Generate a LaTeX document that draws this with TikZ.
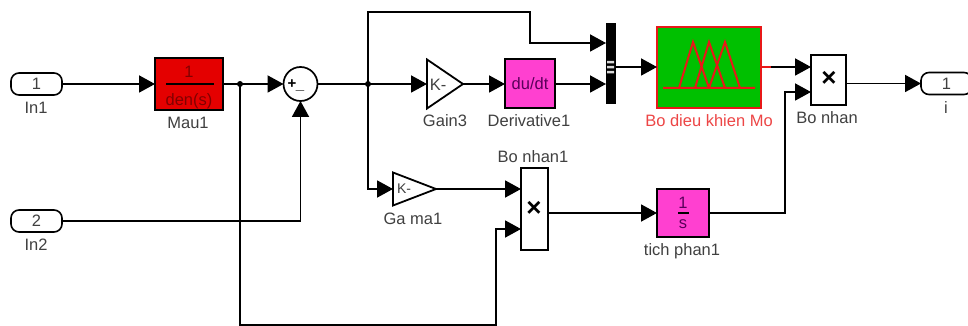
\documentclass[tikz,border=0pt]{standalone}
\usepackage{fontspec}
\setmainfont{Liberation Sans}
\usetikzlibrary{arrows.meta}
\definecolor{lbl}{HTML}{404040}
\definecolor{mag}{HTML}{FF40D0}
\definecolor{red1}{HTML}{E40000}
\definecolor{grn}{HTML}{00C000}
\definecolor{fz}{HTML}{E81818}
\tikzset{
  wire/.style={line width=1.9pt,black,line join=miter},
  arr/.style={wire,-{Triangle[length=16pt,width=17pt]}},
  lab/.style={text=lbl,font=\fontsize{16.5}{18}\selectfont,inner sep=0pt},
  blockbox/.style={draw=black,line width=2pt,inner sep=0pt,outer sep=0pt},
  port/.style={blockbox,line width=1.6pt,rounded corners=8pt,minimum width=51pt,minimum height=22pt,text=lbl,font=\fontsize{16.5}{18}\selectfont},
  hidden/.style={inner sep=0pt,outer sep=0pt},
  dot/.style={circle,fill=black,inner sep=0pt,minimum size=6pt},
}
\begin{document}
\begin{tikzpicture}[x=1pt,y=-1pt]
\clip (0,0) rectangle (968,326);
\fill[white] (0,0) rectangle (968,326);
% ports
\node[port] (in1) at (36.5,84) {1};
\node[lab] (in1l) at (36,108) {In1};
\node[port] (in2) at (36.5,221) {2};
\node[lab] (in2l) at (36,245) {In2};
\node[port] (out) at (946.5,83.5) {1};
\node[lab] (outl) at (946,108) {i};
% Mau1
\node[blockbox,fill=red1,minimum width=68pt,minimum height=52pt] (mau) at (189,84) {};
\node[hidden,font=\fontsize{16.5}{18}\selectfont,text={rgb,255:red,130;green,0;blue,0}] (maun) at (189,72) {1};
\node[hidden,font=\fontsize{16.5}{18}\selectfont,text={rgb,255:red,130;green,0;blue,0}] (maud) at (189,101) {den(s)};
\draw[line width=1.5pt] (166,84) -- (214,84);
\node[lab] (maul) at (188,123) {Mau1};
% sum
\node[blockbox,circle,fill=white,minimum size=34pt,line width=1.7pt] (sum) at (300.5,84) {};
\node[hidden,font=\fontsize{15}{15}\selectfont\bfseries] (sump) at (292,84) {+};
\node[hidden,font=\fontsize{15}{15}\selectfont\bfseries] (summ) at (300,90) {\_};
% gain3
\node[hidden,minimum width=36pt,minimum height=49pt] (gain) at (445,84) {};
\draw[line width=1.8pt] (gain.north west) -- (gain.east) -- (gain.south west) -- cycle;
\node[lab] (gaink) at (438,85) {K-};
\node[lab] (gainl) at (445,121) {Gain3};
% derivative
\node[blockbox,fill=mag,minimum width=50pt,minimum height=49pt,text={rgb,255:red,90;green,0;blue,90},font=\fontsize{16.5}{18}\selectfont] (der) at (530,84) {du/dt};
\node[lab] (derl) at (529,121) {Derivative1};
% mux
\node[hidden,fill=black,minimum width=10pt,minimum height=81pt] (mux) at (611,63.5) {};
\fill[white!85!black] (607,61) rectangle (614,63.5) (607,66) rectangle (614,68.5) (607,71) rectangle (614,73.5);
% fuzzy
\node[blockbox,draw=fz,fill=grn,minimum width=104pt,minimum height=81pt] (fuzzy) at (709,67.5) {};
\draw[fz,line width=2pt] (663,88) -- (755,88)
  (679,88) -- (693,42) -- (709,88)
  (695,88) -- (709,42) -- (725,88)
  (709,88) -- (725,42) -- (740,88);
\node[lab,text=fz!80!white] (fuzzyl) at (709,121) {Bo dieu khien Mo};
% Bo nhan
\node[blockbox,fill=white,minimum width=35pt,minimum height=50pt] (bn) at (828.5,80) {};
\node[hidden,font=\fontsize{26}{26}\selectfont\bfseries] (bnx) at (829,79) {×};
\node[lab] (bnl) at (827,118) {Bo nhan};
% Ga ma1
\node[hidden,minimum width=43pt,minimum height=33pt] (gam) at (414.5,189) {};
\draw[line width=1.8pt] (gam.north west) -- (gam.east) -- (gam.south west) -- cycle;
\node[lab,font=\fontsize{14}{16}\selectfont] (gamk) at (404,189) {K-};
\node[lab] (gaml) at (413,219) {Ga ma1};
% Bo nhan1
\node[blockbox,fill=white,minimum width=27pt,minimum height=82pt] (bn1) at (534.5,209) {};
\node[hidden,font=\fontsize{26}{26}\selectfont\bfseries] (bn1x) at (534,209) {×};
\node[lab] (bn1l) at (533,157) {Bo nhan1};
% tich phan
\node[blockbox,fill=mag,minimum width=52pt,minimum height=48pt] (tp) at (683,213) {};
\node[hidden,font=\fontsize{16.5}{18}\selectfont,text={rgb,255:red,90;green,0;blue,90}] (tpn) at (683,203) {1};
\node[hidden,font=\fontsize{16.5}{18}\selectfont,text={rgb,255:red,90;green,0;blue,90}] (tpd) at (683,224) {s};
\draw[line width=1.5pt] (678,213) -- (689,213);
\node[lab] (tpl) at (682,251) {tich phan1};
% coordinates
\coordinate (j1) at (240,84);
\coordinate (j2) at (368,84);
\coordinate (c1) at (300.5,221);
\coordinate (c2) at (240,325);
\coordinate (c3) at (496,325);
\coordinate (c4) at (496,229);
\coordinate (bn1b) at (521,229);
\coordinate (bn1a) at (521,189);
\coordinate (bn1o) at (548,213);
\coordinate (c5) at (368,12);
\coordinate (c6) at (530,12);
\coordinate (c7) at (530,43);
\coordinate (muxa) at (606,43);
\coordinate (muxb) at (606,84);
\coordinate (muxo) at (616,67);
\coordinate (fzi) at (657,67);
\coordinate (fzo) at (761,67);
\coordinate (fzr) at (771,67);
\coordinate (bna) at (811,67);
\coordinate (bnb) at (811,92);
\coordinate (c8) at (785,213);
\coordinate (c9) at (785,92);
\coordinate (bno) at (846,83.5);
\coordinate (g1) at (368,189);
% connectors
\draw[arr] (in1.east) -- (mau.west);
\draw[arr] (mau.east) -- (sum.west);
\draw[arr] (in2.east) -- (c1) -- (sum.south);
\draw[arr] (j1) -- (c2) -- (c3) -- (c4) -- (bn1b);
\draw[arr] (sum.east) -- (gain.west);
\draw[arr] (gain.east) -- (der.west);
\draw[arr] (der.east) -- (muxb);
\draw[arr] (j2) -- (c5) -- (c6) -- (c7) -- (muxa);
\draw[arr] (j2) -- (g1) -- (gam.west);
\draw[arr] (gam.east) -- (bn1a);
\draw[arr] (muxo) -- (fzi);
\draw[wire,fz] (fzo) -- (fzr);
\draw[arr] (fzr) -- (bna);
\draw[arr] (bn1o) -- (tp.west);
\draw[arr] (tp.east) -- (c8) -- (c9) -- (bnb);
\draw[arr] (bno) -- (out.west);
\node[dot] (d1) at (j1) {};
\node[dot] (d2) at (j2) {};
\end{tikzpicture}
\end{document}
